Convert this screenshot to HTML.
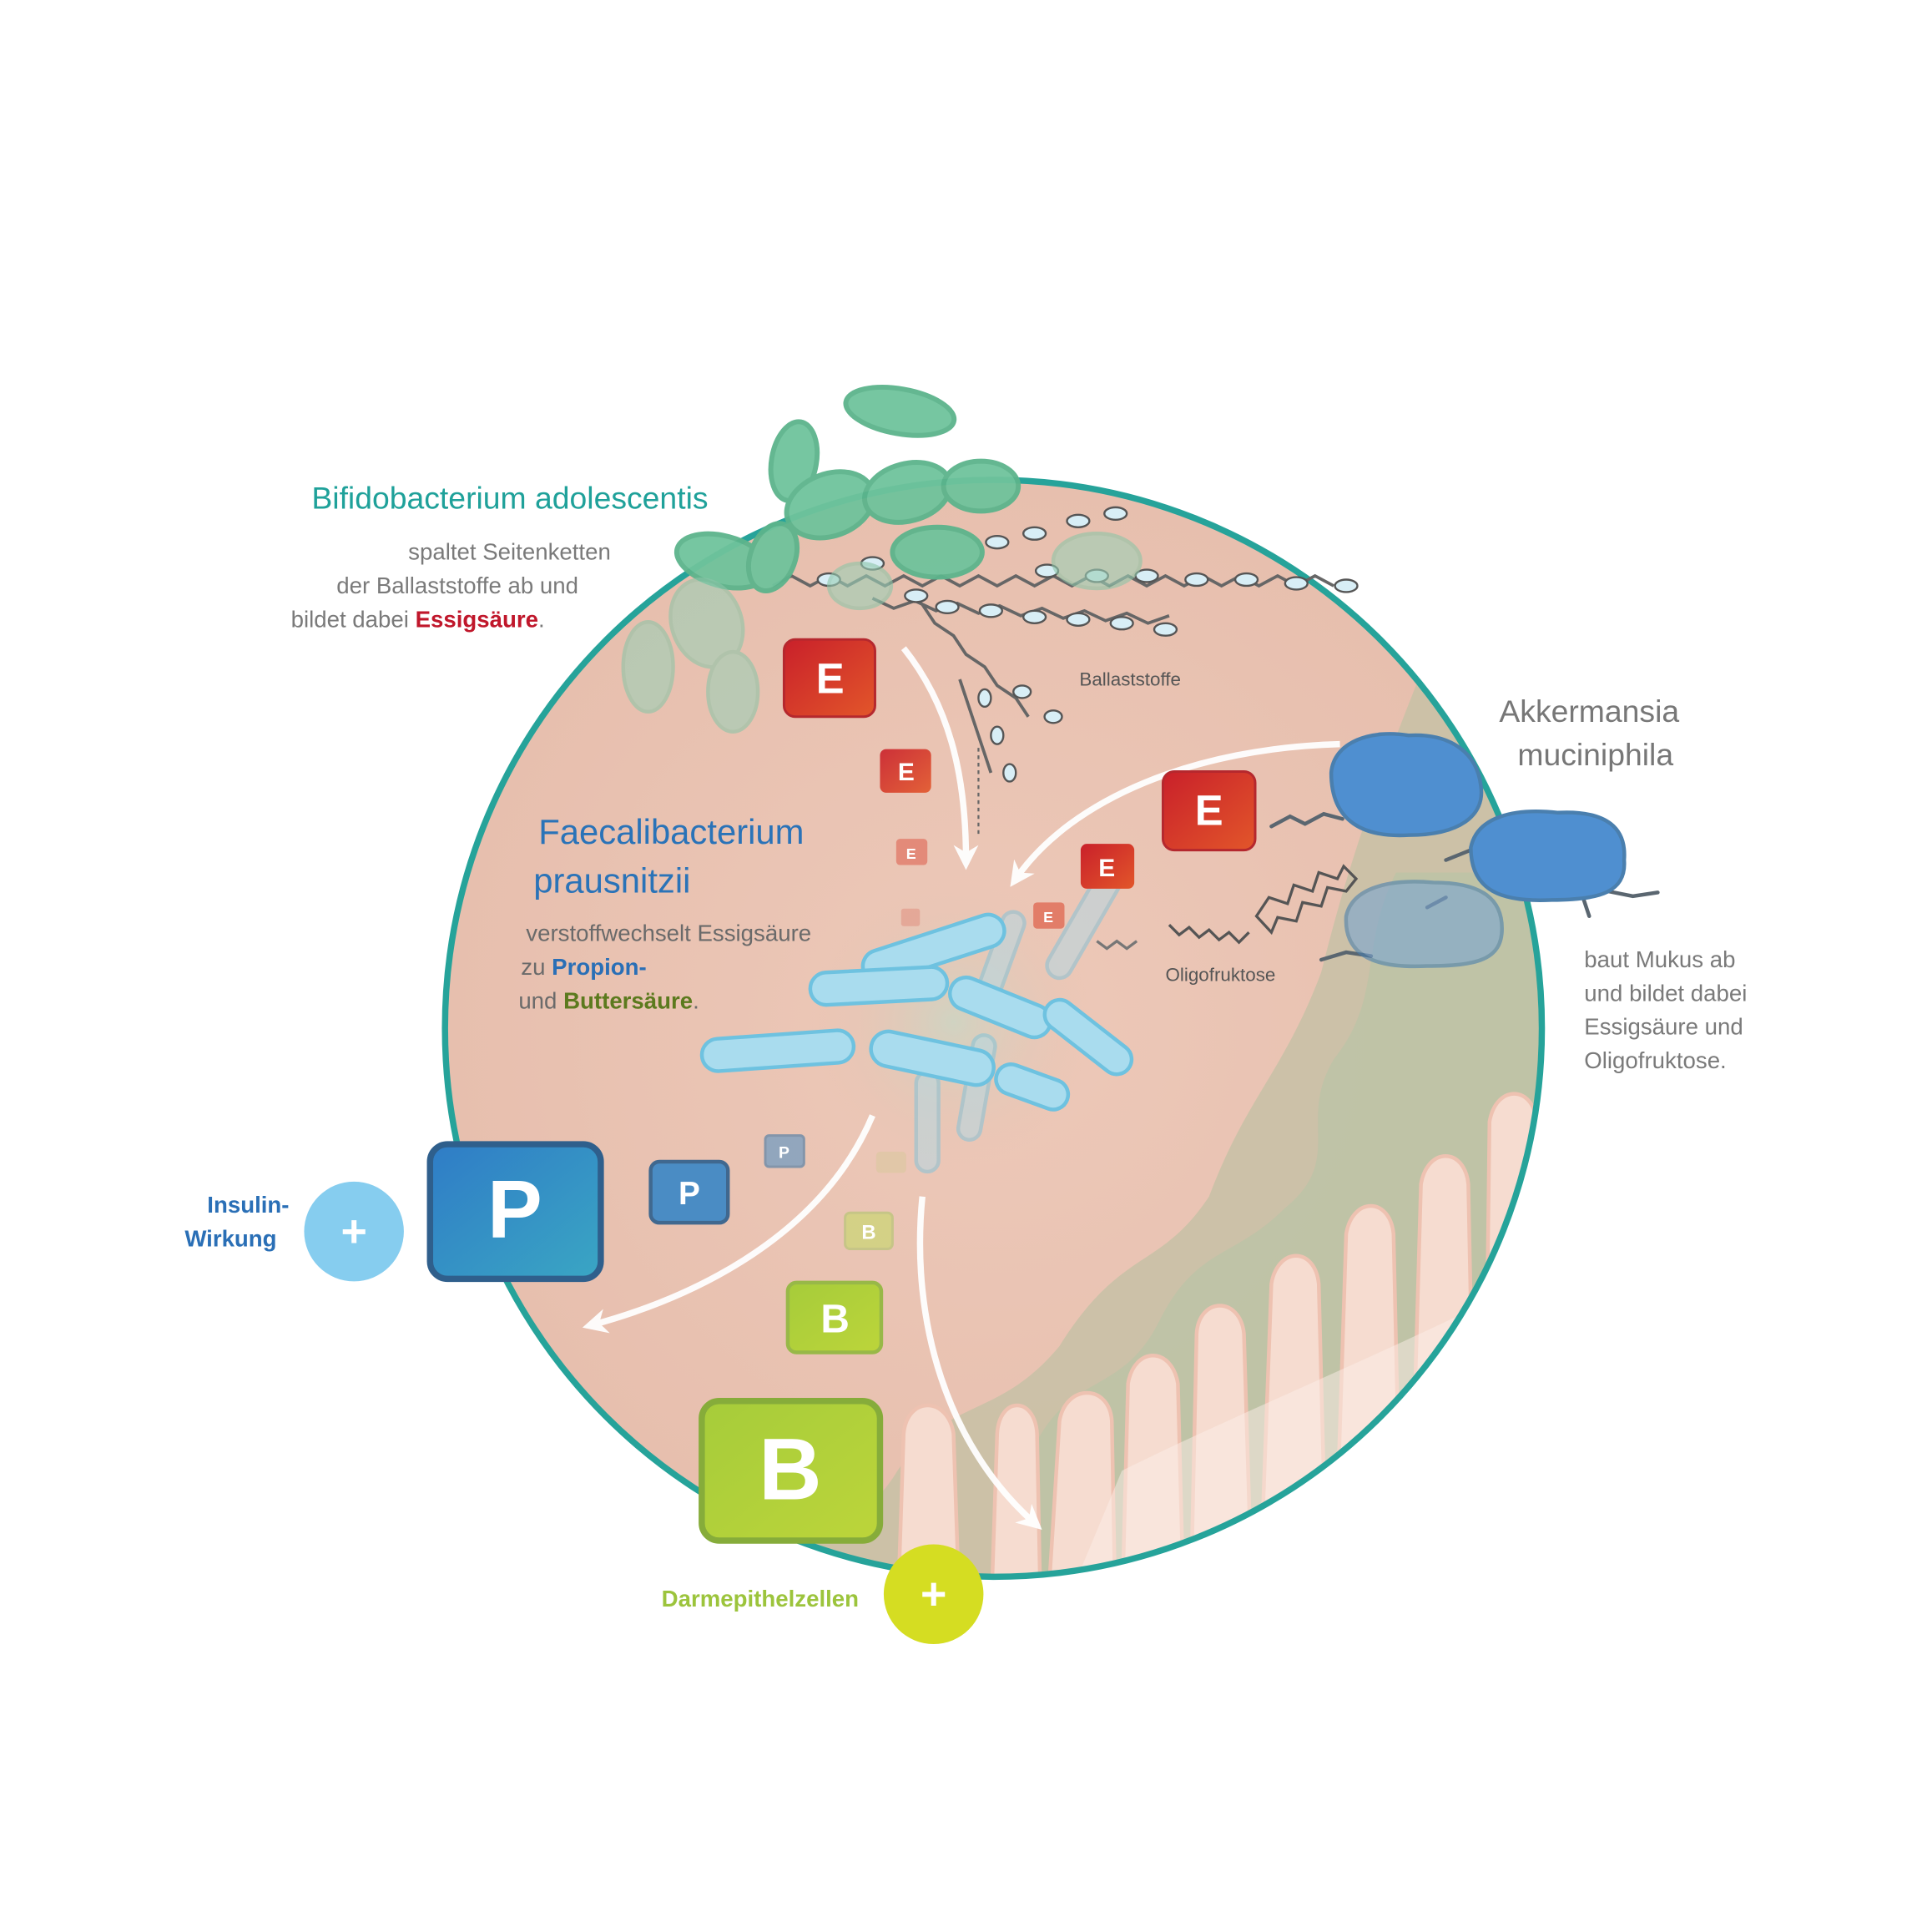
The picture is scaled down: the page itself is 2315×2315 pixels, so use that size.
<!DOCTYPE html>
<html><head><meta charset="utf-8"><style>
html,body{margin:0;padding:0;background:#fff}
svg{display:block}
text{font-family:"Liberation Sans","DejaVu Sans",sans-serif}
</style></head><body>
<svg width="2315" height="2315" viewBox="0 0 1550 1550" xmlns="http://www.w3.org/2000/svg">
<defs>
<clipPath id="cc"><circle cx="797" cy="825" r="438"/></clipPath>
<radialGradient id="bg" cx="0.5" cy="0.5" r="0.5">
<stop offset="0" stop-color="#edc9b9"/><stop offset="1" stop-color="#e7bfae"/></radialGradient>
<linearGradient id="red" x1="0" y1="0" x2="1" y2="1"><stop offset="0" stop-color="#c9202a"/><stop offset="1" stop-color="#e2562a"/></linearGradient>
<linearGradient id="blu" x1="0" y1="0" x2="1" y2="1"><stop offset="0" stop-color="#2f7cc6"/><stop offset="1" stop-color="#3aa6c4"/></linearGradient>
<linearGradient id="grn" x1="0" y1="0" x2="1" y2="1"><stop offset="0" stop-color="#a6cc3a"/><stop offset="1" stop-color="#bcd53a"/></linearGradient>
<radialGradient id="glow" cx="0.5" cy="0.5" r="0.5"><stop offset="0" stop-color="#c9d6c4" stop-opacity="0.8"/><stop offset="1" stop-color="#e7bfae" stop-opacity="0"/></radialGradient>
<marker id="ah" viewBox="0 0 10 10" refX="6" refY="5" markerWidth="4" markerHeight="4" orient="auto"><path d="M0,0 L10,5 L0,10 L3,5z" fill="#fff"/></marker>
</defs>

<circle cx="797" cy="825" r="440" fill="url(#bg)"/>
<g clip-path="url(#cc)">
 <path d="M1140,540 C1100,640 1080,700 1060,780 C1030,860 1000,880 970,960 C930,1020 900,1000 850,1080 C800,1140 760,1120 720,1180 C690,1230 640,1240 560,1270 L1300,1300 L1300,540z" fill="#c9c1a6" opacity="0.9"/>
 <path d="M1120,700 C1090,760 1110,800 1070,850 C1040,900 1080,930 1030,970 C990,1010 960,1000 930,1060 C900,1120 860,1100 830,1160 L830,1300 L1300,1300 L1300,700z" fill="#bcc3a6" opacity="0.8"/>
 <g fill="#f6dcd0" stroke="#eec2b1" stroke-width="3">
  <path d="M720,1300 L725,1150 C728,1120 760,1120 765,1150 L770,1300z"/>
  <path d="M795,1300 L800,1150 C802,1120 830,1120 832,1150 L835,1300z"/>
  <path d="M840,1300 L850,1140 C855,1110 890,1110 892,1140 L895,1300z"/>
  <path d="M900,1300 L905,1110 C910,1080 940,1080 945,1110 L950,1300z"/>
  <path d="M955,1300 L960,1070 C962,1040 995,1040 998,1070 L1005,1300z"/>
  <path d="M1010,1300 L1020,1030 C1025,1000 1055,1000 1058,1030 L1065,1300z"/>
  <path d="M1070,1300 L1080,990 C1085,960 1115,960 1118,990 L1125,1300z"/>
  <path d="M1130,1300 L1140,950 C1145,920 1175,920 1178,950 L1185,1300z"/>
  <path d="M1190,1300 L1195,900 C1200,870 1230,870 1233,900 L1240,1300z"/>
 </g>
 <path d="M900,1180 C1000,1130 1150,1070 1260,1010 L1300,1300 L850,1300z" fill="#fbeee8" opacity="0.5"/>
 <circle cx="765" cy="820" r="115" fill="url(#glow)"/>
</g>
<circle cx="797" cy="825" r="440" fill="none" stroke="#26a39a" stroke-width="5"/>

<g fill="none" stroke="#fff" stroke-width="5" opacity="0.95" marker-end="url(#ah)">
 <path d="M725,520 C765,570 775,630 775,690"/>
 <path d="M1075,597 C960,600 860,640 815,705"/>
 <path d="M700,895 C660,990 560,1040 475,1063"/>
 <path d="M740,960 C730,1060 760,1160 830,1222"/>
</g>

<g fill="none" stroke="#666" stroke-width="2.5">
 <path d="M620,470 l15,-8 l15,8 l15,-8 l15,8 l15,-8 l15,8 l15,-8 l15,8 l15,-8 l15,8 l15,-8 l15,8 l15,-8 l15,8 l15,-8 l15,8 l15,-8 l15,8 l15,-8 l15,8 l15,-8 l15,8 l15,-8 l15,8 l15,-8 l15,8 l15,-8 l15,8 l15,-8 l15,8"/>
 <path d="M700,480 l17,8 l17,-6 l17,8 l17,-6 l17,8 l17,-6 l17,8 l17,-6 l17,8 l17,-6 l17,8 l17,-6 l17,8 l17,-6"/>
 <path d="M740,485 l10,15 l15,10 l10,15 l15,10 l10,15 l15,10 l10,15"/>
 <path d="M770,545 l5,15 l5,15 l5,15 l5,15 l5,15"/>
 <path d="M785,600 l0,70" stroke-width="1.5" stroke-dasharray="3 3"/>
</g>
<g fill="#d8eef6" stroke="#555" stroke-width="1.6">
 <ellipse cx="760" cy="487" rx="9" ry="5"/><ellipse cx="795" cy="490" rx="9" ry="5"/><ellipse cx="830" cy="495" rx="9" ry="5"/><ellipse cx="865" cy="497" rx="9" ry="5"/><ellipse cx="900" cy="500" rx="9" ry="5"/><ellipse cx="935" cy="505" rx="9" ry="5"/>
 <ellipse cx="840" cy="458" rx="9" ry="5"/><ellipse cx="880" cy="462" rx="9" ry="5"/><ellipse cx="920" cy="462" rx="9" ry="5"/><ellipse cx="960" cy="465" rx="9" ry="5"/><ellipse cx="1000" cy="465" rx="9" ry="5"/><ellipse cx="1040" cy="468" rx="9" ry="5"/><ellipse cx="1080" cy="470" rx="9" ry="5"/>
 <ellipse cx="665" cy="465" rx="9" ry="5"/><ellipse cx="700" cy="452" rx="9" ry="5"/><ellipse cx="735" cy="478" rx="9" ry="5"/>
 <ellipse cx="800" cy="435" rx="9" ry="5"/><ellipse cx="830" cy="428" rx="9" ry="5"/><ellipse cx="865" cy="418" rx="9" ry="5"/><ellipse cx="895" cy="412" rx="9" ry="5"/>
 <ellipse cx="790" cy="560" rx="5" ry="7"/><ellipse cx="800" cy="590" rx="5" ry="7"/><ellipse cx="810" cy="620" rx="5" ry="7"/><ellipse cx="820" cy="555" rx="7" ry="5"/><ellipse cx="845" cy="575" rx="7" ry="5"/>
</g>

<g fill="#6fc39c" stroke="#5cb48c" stroke-width="4" opacity="0.95">
 <ellipse cx="722" cy="330" rx="44" ry="18" transform="rotate(10 722 330)"/>
 <ellipse cx="637" cy="370" rx="18" ry="32" transform="rotate(10 637 370)"/>
 <ellipse cx="666" cy="405" rx="36" ry="25" transform="rotate(-20 666 405)"/>
 <ellipse cx="728" cy="395" rx="35" ry="23" transform="rotate(-15 728 395)"/>
 <ellipse cx="787" cy="390" rx="30" ry="20"/>
 <ellipse cx="580" cy="450" rx="38" ry="20" transform="rotate(15 580 450)"/>
 <ellipse cx="620" cy="447" rx="18" ry="28" transform="rotate(20 620 447)"/>
 <ellipse cx="752" cy="443" rx="36" ry="20"/>
</g>
<g fill="#9ccfb6" stroke="#8cc5a8" stroke-width="3" opacity="0.6">
 <ellipse cx="520" cy="535" rx="20" ry="36"/>
 <ellipse cx="567" cy="500" rx="28" ry="36" transform="rotate(-20 567 500)"/>
 <ellipse cx="588" cy="555" rx="20" ry="32"/>
 <ellipse cx="690" cy="470" rx="25" ry="18"/>
 <ellipse cx="880" cy="450" rx="35" ry="22"/>
</g>

<g fill="none" stroke="#555" stroke-width="2.2">
 <path d="M938,742 l8,8 l8,-6 l8,8 l8,-6 l8,8 l8,-6 l8,8 l8,-8"/>
 <path d="M1008,735 l10,-15 l15,5 l5,-15 l15,5 l5,-15 l15,5 l5,-10 l10,10 l-8,10 l-15,-3 l-5,15 l-15,-3 l-5,15 l-15,-3 l-5,12z"/>
 <path d="M880,755 l8,6 l8,-6 l8,6 l8,-6" stroke="#777"/>
</g>

<g stroke="#5a6670" stroke-width="3" fill="none" stroke-linecap="round">
 <path d="M1020,663 l15,-8 l12,6 l15,-8 l15,4"/>
 <path d="M1160,690 l20,-8 l25,4 l20,-5"/>
 <path d="M1290,715 l20,4 l20,-3"/>
 <path d="M1060,770 l20,-6 l20,3"/>
 <path d="M1160,720 l-15,8"/>
 <path d="M1270,720 l5,15"/>
</g>
<g stroke="#4a7fae" stroke-width="3">
 <path d="M1068,620 C1070,595 1100,585 1130,590 C1165,588 1185,605 1188,630 C1192,655 1170,670 1130,670 C1095,672 1068,660 1068,620z" fill="#4f8fd0"/>
 <path d="M1180,680 C1185,655 1215,648 1250,652 C1290,650 1305,665 1303,690 C1305,715 1285,722 1245,722 C1205,724 1180,715 1180,680z" fill="#4f8fd0"/>
 <path d="M1080,735 C1085,712 1115,705 1150,708 C1190,708 1205,722 1205,745 C1205,770 1185,775 1145,775 C1105,777 1078,768 1080,735z" fill="#7aa6d2" opacity="0.6"/>
</g>

<g fill="#a9dcee" stroke="#6ec2e0" stroke-width="3">
 <g opacity="0.45">
  <rect x="735" y="860" width="18" height="80" rx="9"/>
  <rect x="775" y="830" width="18" height="85" rx="9" transform="rotate(10 784 870)"/>
  <rect x="860" y="690" width="20" height="100" rx="10" transform="rotate(30 870 740)"/>
  <rect x="795" y="730" width="18" height="70" rx="9" transform="rotate(20 804 765)"/>
 </g>
 <rect x="690" y="748" width="118" height="26" rx="13" transform="rotate(-18 749 761)"/>
 <rect x="650" y="778" width="110" height="26" rx="13" transform="rotate(-3 705 791)"/>
 <rect x="760" y="795" width="85" height="26" rx="13" transform="rotate(22 802 808)"/>
 <rect x="832" y="820" width="82" height="24" rx="12" transform="rotate(38 873 832)"/>
 <rect x="563" y="830" width="122" height="26" rx="13" transform="rotate(-4 624 843)"/>
 <rect x="698" y="835" width="100" height="28" rx="14" transform="rotate(12 748 849)"/>
 <rect x="798" y="860" width="60" height="24" rx="12" transform="rotate(20 828 872)"/>
</g>

<g font-weight="bold" fill="#fff" text-anchor="middle">
 <rect x="629" y="513" width="73" height="62" rx="9" fill="url(#red)" stroke="#b5282e" stroke-width="2"/>
 <text x="666" y="556" font-size="34" fill="#fff">E</text>
 <rect x="706" y="601" width="41" height="35" rx="5" fill="url(#red)" opacity="0.9"/>
 <text x="727" y="626" font-size="20" fill="#fff">E</text>
 <rect x="719" y="673" width="25" height="21" rx="3" fill="#e07060" opacity="0.7"/>
 <text x="731" y="689" font-size="12" fill="#fff">E</text>
 <rect x="723" y="729" width="15" height="14" rx="2" fill="#e08a7a" opacity="0.5"/>
 <rect x="829" y="724" width="25" height="21" rx="3" fill="#e06a55" opacity="0.8"/>
 <text x="841" y="740" font-size="12" fill="#fff">E</text>
 <rect x="867" y="677" width="43" height="36" rx="5" fill="url(#red)"/>
 <text x="888" y="703" font-size="20" fill="#fff">E</text>
 <rect x="933" y="619" width="74" height="63" rx="9" fill="url(#red)" stroke="#b5282e" stroke-width="2"/>
 <text x="970" y="662" font-size="34" fill="#fff">E</text>

 <rect x="345" y="918" width="137" height="108" rx="14" fill="url(#blu)" stroke="#2f5f8c" stroke-width="5"/>
 <text x="413" y="993" font-size="66" fill="#fff">P</text>
 <rect x="522" y="932" width="62" height="49" rx="7" fill="#4a8cc4" stroke="#40688f" stroke-width="3"/>
 <text x="553" y="966" font-size="26" fill="#fff">P</text>
 <rect x="614" y="911" width="31" height="25" rx="3" fill="#7c9fc0" stroke="#6a8aa8" stroke-width="2" opacity="0.8"/>
 <text x="629" y="929" font-size="13" fill="#fff">P</text>

 <rect x="703" y="924" width="24" height="17" rx="3" fill="#d8c89a" opacity="0.5"/>
 <rect x="678" y="973" width="38" height="29" rx="4" fill="#d0d47e" stroke="#c0c680" stroke-width="2" opacity="0.85"/>
 <text x="697" y="994" font-size="16" fill="#fff">B</text>
 <rect x="632" y="1029" width="75" height="56" rx="7" fill="url(#grn)" stroke="#98b848" stroke-width="3"/>
 <text x="670" y="1069" font-size="32" fill="#fff">B</text>
 <rect x="563" y="1124" width="143" height="112" rx="14" fill="url(#grn)" stroke="#86ac3a" stroke-width="5"/>
 <text x="634" y="1203" font-size="70" fill="#fff">B</text>
</g>

<circle cx="284" cy="988" r="40" fill="#86cdef"/>
<text x="284" y="1000" font-size="36" font-weight="bold" fill="#fff" text-anchor="middle">+</text>
<circle cx="749" cy="1279" r="40" fill="#d5dd22"/>
<text x="749" y="1291" font-size="36" font-weight="bold" fill="#fff" text-anchor="middle">+</text>

<text x="250" y="408" font-size="25" fill="#1fa19a">Bifidobacterium adolescentis</text>
<g font-size="18.5" fill="#7a7a7a" text-anchor="end">
 <text x="490" y="449">spaltet Seitenketten</text>
 <text x="464" y="476">der Ballaststoffe ab und</text>
 <text x="437" y="503">bildet dabei <tspan fill="#c0172b" font-weight="bold">Essigsäure</tspan>.</text>
</g>
<text x="432" y="677" font-size="28" fill="#2a73b8">Faecalibacterium</text>
<text x="428" y="716" font-size="28" fill="#2a73b8">prausnitzii</text>
<g font-size="18.5" fill="#6a6a6a">
 <text x="422" y="755">verstoffwechselt Essigsäure</text>
 <text x="418" y="782">zu <tspan fill="#2a6fb6" font-weight="bold">Propion-</tspan></text>
 <text x="416" y="809">und <tspan fill="#5c7a1e" font-weight="bold">Buttersäure</tspan>.</text>
</g>
<text x="866" y="550" font-size="15" fill="#555">Ballaststoffe</text>
<text x="935" y="787" font-size="15" fill="#555">Oligofruktose</text>
<g font-size="25" fill="#777" text-anchor="middle">
 <text x="1275" y="579">Akkermansia</text>
 <text x="1280" y="614">muciniphila</text>
</g>
<g font-size="18.5" fill="#7a7a7a">
 <text x="1271" y="776">baut Mukus ab</text>
 <text x="1271" y="803">und bildet dabei</text>
 <text x="1271" y="830">Essigsäure und</text>
 <text x="1271" y="857">Oligofruktose.</text>
</g>
<g font-size="18.5" font-weight="bold" fill="#2a6fb6" text-anchor="end">
 <text x="232" y="973">Insulin-</text>
 <text x="222" y="1000">Wirkung</text>
</g>
<text x="689" y="1289" font-size="18.5" font-weight="bold" fill="#9cc43c" text-anchor="end">Darmepithelzellen</text>
</svg>
</body></html>
